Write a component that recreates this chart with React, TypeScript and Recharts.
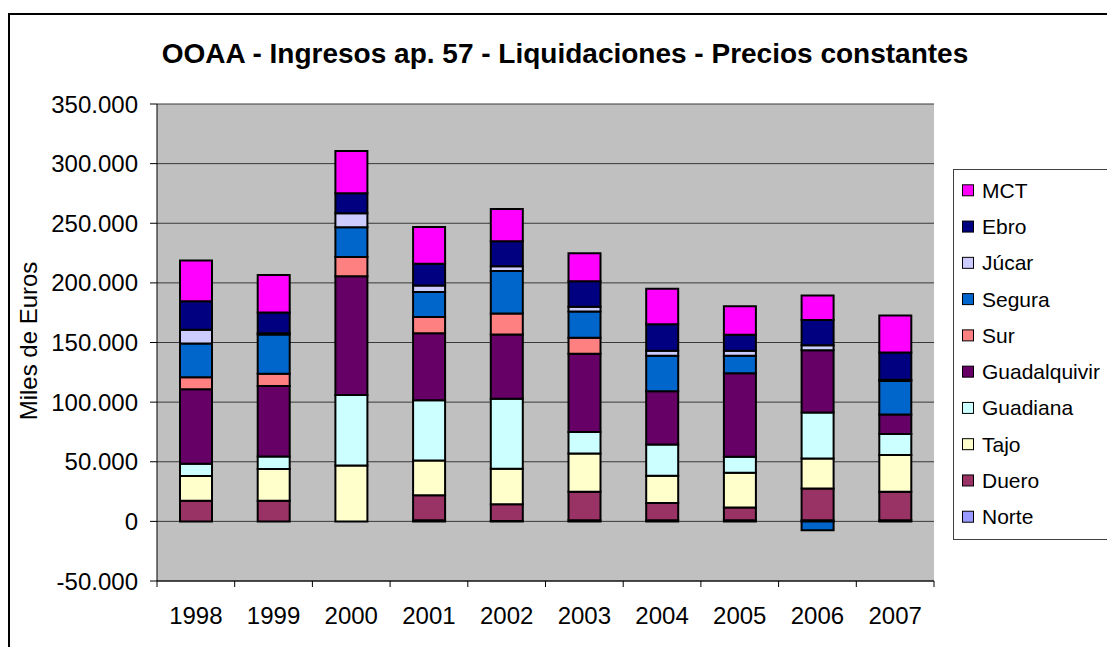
import React from 'react';
import { BarChart, Bar, XAxis, YAxis, CartesianGrid } from 'recharts';

const years = ['1998', '1999', '2000', '2001', '2002', '2003', '2004', '2005', '2006', '2007'];
const norte = [0, 0, 0, 1000, 300, 1000, 1000, 1000, 1000, 1000];
const duero = [17200, 17200, 0, 21000, 14100, 23800, 14500, 10600, 26600, 23800];
const tajo = [20800, 26700, 46900, 29100, 29700, 32200, 22700, 29200, 25200, 30800];
const guadiana = [10300, 10600, 59100, 50400, 58800, 18000, 26300, 13400, 38600, 17700];
const guadalquivir = [62500, 59100, 99500, 56300, 53800, 65500, 44600, 70000, 52100, 16400];
const sur = [10000, 10100, 16200, 13500, 17700, 13500, 0, 0, 0, 0];
const segura = [28400, 33100, 24900, 21000, 35500, 22100, 29700, 14600, -7500, 28000];
const jucar = [11500, 1000, 11800, 5600, 4000, 3900, 4200, 4200, 4200, 1000];
const ebro = [23800, 17300, 16800, 18200, 21000, 21300, 22400, 13500, 21200, 22900];
const mct = [34200, 31400, 35300, 30800, 27100, 23500, 29700, 23800, 20500, 31100];

const yTicks = [-50000, 0, 50000, 100000, 150000, 200000, 250000, 300000, 350000];

const seriesNames = ['Norte', 'Duero', 'Tajo', 'Guadiana', 'Guadalquivir', 'Sur', 'Segura', 'Júcar', 'Ebro', 'MCT'];
const seriesValues = [norte, duero, tajo, guadiana, guadalquivir, sur, segura, jucar, ebro, mct];
const seriesColors = ['#9999FF', '#993366', '#FFFFCC', '#CCFFFF', '#660066', '#FF8080', '#0066CC', '#CCCCFF', '#000080', '#FF00FF'];

const title = 'OOAA - Ingresos ap. 57 - Liquidaciones - Precios constantes';
const yLabel = 'Miles de Euros';

const data = years.map((year, i) => {
  const row: Record<string, string | number> = { year };
  seriesNames.forEach((n, s) => {
    row[n] = seriesValues[s][i];
  });
  return row;
});

const FONT = "'Liberation Sans', Arial, sans-serif";

const fmt = (v: number) => {
  const s = String(Math.abs(v)).replace(/\B(?=(\d{3})+(?!\d))/g, '.');
  return v < 0 ? '-' + s : s;
};

const XTick = (props: any) => {
  const { x, y, payload, index } = props;
  const half = payload && typeof payload.offset === 'number' && payload.offset > 0 ? payload.offset : 38.85;
  const idx = payload && typeof payload.index === 'number' ? payload.index : index;
  return (
    <g>
      <line x1={x - half} y1={y} x2={x - half} y2={y + 6} stroke="#000" strokeWidth={1} />
      {idx === years.length - 1 && (
        <line x1={x + half} y1={y} x2={x + half} y2={y + 6} stroke="#000" strokeWidth={1} />
      )}
      <text x={x} y={y + 43} textAnchor="middle" fontSize={24} fontFamily={FONT} fill="#000">
        {payload.value}
      </text>
    </g>
  );
};

export default function App() {
  const legendItems = seriesNames.map((n, i) => ({ name: n, color: seriesColors[i] })).reverse();
  return (
    <div
      style={{
        position: 'fixed',
        left: 0,
        top: 0,
        width: 1107,
        height: 647,
        overflow: 'hidden',
        background: '#fff',
      }}
    >
      <BarChart
        width={1107}
        height={647}
        data={data}
        stackOffset="sign"
        barSize={32}
        margin={{ top: 104, right: 173, left: 77, bottom: 16 }}
      >
        <CartesianGrid vertical={false} fill="#C0C0C0" fillOpacity={1} stroke="#383838" />
        <XAxis
          dataKey="year"
          height={50}
          interval={0}
          tickLine={false}
          tickSize={0}
          tickMargin={0}
          axisLine={{ stroke: '#000', strokeWidth: 1 }}
          tick={<XTick />}
        />
        <YAxis
          width={80}
          domain={[-50000, 350000]}
          ticks={yTicks}
          interval={0}
          allowDataOverflow
          tickFormatter={fmt}
          tickSize={7}
          tickMargin={12}
          tickLine={{ stroke: '#000' }}
          axisLine={{ stroke: '#000' }}
          tick={{ fontSize: 24, fontFamily: FONT, fill: '#000' }}
        />
        <YAxis
          yAxisId="right"
          orientation="right"
          width={0}
          domain={[-50000, 350000]}
          tick={false}
          tickLine={false}
          axisLine={{ stroke: '#808080' }}
        />
        {seriesNames.map((n, i) => (
          <Bar
            key={n}
            dataKey={n}
            stackId="s"
            fill={seriesColors[i]}
            stroke="#000"
            strokeWidth={2}
            isAnimationActive={false}
          />
        ))}
      </BarChart>
      <svg
        width={1107}
        height={647}
        style={{ position: 'absolute', left: 0, top: 0, pointerEvents: 'none' }}
      >
        <rect x={9} y={14} width={1200} height={700} fill="none" stroke="#000" strokeWidth={2} />
        <text x={565} y={63} textAnchor="middle" fontSize={28} fontWeight="bold" fontFamily={FONT} fill="#000">
          {title}
        </text>
        <text
          transform="translate(36.5,341) rotate(-90)"
          textAnchor="middle"
          fontSize={24}
          fontFamily={FONT}
          fill="#000"
        >
          {yLabel}
        </text>
        <rect x={953.5} y={169.5} width={200} height={370} fill="#fff" stroke="#404040" strokeWidth={1} />
        {legendItems.map((it, i) => {
          const cy = 190.3 + i * 36.27;
          return (
            <g key={it.name}>
              <rect x={962.5} y={cy - 5.5} width={11} height={11} fill={it.color} stroke="#000" strokeWidth={1} />
              <text x={982} y={cy + 7.5} fontSize={21} fontFamily={FONT} fill="#000">
                {it.name}
              </text>
            </g>
          );
        })}
      </svg>
    </div>
  );
}
